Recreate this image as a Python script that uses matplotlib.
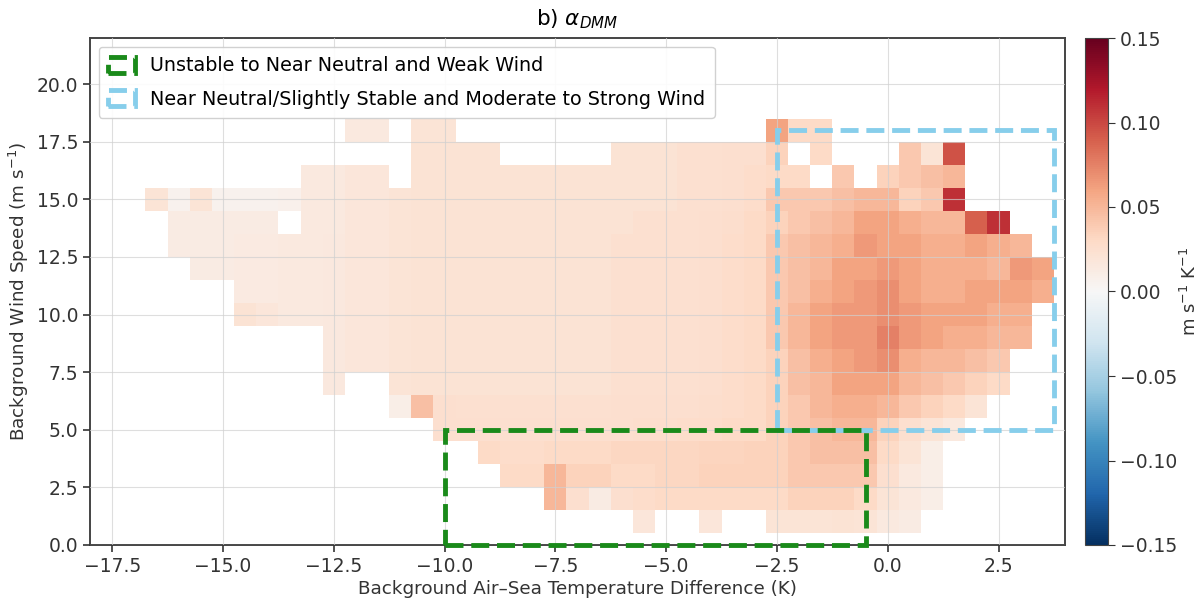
import numpy as np
import matplotlib
matplotlib.use("Agg")
import matplotlib.pyplot as plt
import matplotlib.patches as mpatches
from matplotlib.ticker import FuncFormatter

n = np.nan

# Bin centres
temp_diff_centers = np.arange(-17.5, 3.5 + 0.25, 0.5)   # K
wind_speed_centers = np.arange(1, 19)                    # m/s

# alpha_DMM per wind-speed row: (first temperature-difference centre, values)
r18_start, r18 = -12.0, [0.015, 0.015, n, 0.02, 0.02, n, n, n, n, n, n, n, n, n, n, n, n, n, n, 0.06, 0.03, 0.03]
r17_start, r17 = -10.5, [0.022, 0.022, 0.022, 0.022, n, n, n, n, n, 0.022, 0.022, 0.022, 0.024, 0.024, 0.025, 0.025,
                         0.035, n, 0.03, n, n, n, 0.04, 0.02, 0.095]
r16_start, r16 = -13.0, [0.015, 0.015, 0.018, 0.018, n, 0.022, 0.022, 0.022, 0.022, 0.022, 0.022, 0.022, 0.022,
                         0.022, 0.022, 0.022, 0.022, 0.024, 0.024, 0.025, 0.028, 0.03, 0.03, n, 0.04, n, 0.035,
                         0.04, 0.045, 0.05]
r15_start, r15 = -16.5, [0.02, 0.006, 0.02, 0.006, 0.006, 0.006, 0.008, 0.015, 0.015, 0.018, 0.018, 0.02, 0.022,
                         0.022, 0.022, 0.022, 0.022, 0.022, 0.022, 0.022, 0.022, 0.022, 0.022, 0.022, 0.024, 0.024,
                         0.025, 0.028, 0.04, 0.04, 0.04, 0.045, 0.05, 0.05, 0.035, 0.04, 0.11]
r14_start, r14 = -16.0, [0.012, 0.012, 0.012, 0.012, 0.012, n, 0.015, 0.015, 0.018, 0.018, 0.02, 0.022, 0.022,
                         0.022, 0.022, 0.022, 0.022, 0.022, 0.022, 0.022, 0.022, 0.024, 0.024, 0.024, 0.025, 0.026,
                         0.03, 0.035, 0.04, 0.045, 0.05, 0.06, 0.06, 0.055, 0.05, 0.05, 0.09, 0.11]
r13_start, r13 = -16.0, [0.012, 0.012, 0.012, 0.014, 0.014, 0.015, 0.015, 0.016, 0.018, 0.018, 0.02, 0.022, 0.022,
                         0.022, 0.022, 0.022, 0.022, 0.022, 0.022, 0.022, 0.024, 0.024, 0.024, 0.024, 0.025, 0.028,
                         0.03, 0.04, 0.045, 0.05, 0.055, 0.065, 0.06, 0.06, 0.055, 0.055, 0.06, 0.055, 0.05]
r12_start, r12 = -15.5, [0.012, 0.012, 0.014, 0.014, 0.015, 0.015, 0.016, 0.018, 0.018, 0.02, 0.022, 0.022, 0.022,
                         0.022, 0.022, 0.022, 0.022, 0.022, 0.022, 0.024, 0.024, 0.024, 0.024, 0.025, 0.028, 0.03,
                         0.04, 0.045, 0.05, 0.06, 0.06, 0.065, 0.06, 0.055, 0.055, 0.055, 0.05, 0.065, 0.06]
r11_start, r11 = -14.5, [0.014, 0.014, 0.015, 0.015, 0.016, 0.018, 0.018, 0.02, 0.022, 0.022, 0.022, 0.022, 0.022,
                         0.022, 0.022, 0.022, 0.022, 0.024, 0.024, 0.024, 0.024, 0.025, 0.028, 0.03,
                         0.04, 0.045, 0.055, 0.06, 0.065, 0.07, 0.06, 0.055, 0.055, 0.06, 0.06, 0.06, 0.055]
r10_start, r10 = -14.5, [0.022, 0.018, 0.015, 0.015, 0.016, 0.018, 0.018, 0.02, 0.022, 0.022, 0.022, 0.022, 0.022,
                         0.022, 0.022, 0.022, 0.022, 0.024, 0.024, 0.024, 0.024, 0.025, 0.028, 0.03,
                         0.04, 0.05, 0.06, 0.065, 0.065, 0.07, 0.065, 0.06, 0.06, 0.06, 0.055, 0.055]
r09_start, r09 = -12.5, [0.016, 0.018, 0.018, 0.02, 0.022, 0.022, 0.022, 0.022, 0.022, 0.022, 0.022, 0.022, 0.022,
                         0.024, 0.024, 0.024, 0.024, 0.025, 0.028, 0.03,
                         0.04, 0.05, 0.06, 0.065, 0.065, 0.075, 0.065, 0.06, 0.055, 0.055, 0.05, 0.05]
r08_start, r08 = -12.5, [0.016, 0.018, 0.018, 0.02, 0.022, 0.022, 0.022, 0.022, 0.022, 0.022, 0.022, 0.022, 0.022,
                         0.024, 0.024, 0.024, 0.024, 0.025, 0.028, 0.03,
                         0.035, 0.045, 0.055, 0.06, 0.065, 0.07, 0.055, 0.05, 0.05, 0.045, 0.04]
r07_start, r07 = -12.5, [0.016, n, n, 0.02, 0.022, 0.022, 0.022, 0.022, 0.022, 0.022, 0.022, 0.022, 0.022,
                         0.024, 0.024, 0.024, 0.024, 0.025, 0.028, 0.03,
                         0.035, 0.045, 0.05, 0.06, 0.06, 0.06, 0.05, 0.045, 0.04, 0.035, 0.03]
r06_start, r06 = -11.0, [0.01, 0.045, 0.025, 0.024, 0.024, 0.024, 0.024, 0.024, 0.024, 0.024,
                         0.025, 0.025, 0.025, 0.025, 0.026, 0.028, 0.03,
                         0.035, 0.04, 0.05, 0.055, 0.055, 0.05, 0.04, 0.035, 0.03, 0.02]
r05_start, r05 = -10.0, [0.025, 0.025, 0.025, 0.025, 0.025, 0.025, 0.025, 0.025, 0.025, 0.026, 0.026, 0.028,
                         0.028, 0.03, 0.03, 0.035, 0.04, 0.045, 0.05, 0.05, 0.035, 0.025, 0.02, 0.015]
r04_start, r04 = -9.0, [0.03, 0.028, 0.028, 0.03, 0.03, 0.03, 0.032, 0.032, 0.032, 0.032, 0.033, 0.033, 0.035,
                        0.035, 0.04, 0.045, 0.045, 0.045, 0.03, 0.02, 0.01]
r03_start, r03 = -8.5, [0.03, 0.03, 0.05, 0.035, 0.035, 0.03, 0.03, 0.032, 0.032, 0.035, 0.035, 0.035, 0.035,
                        0.04, 0.04, 0.04, 0.04, 0.025, 0.015, 0.01]
r02_start, r02 = -7.5, [0.05, 0.025, 0.012, 0.025, 0.028, 0.03, 0.03, 0.03, 0.03, 0.03, 0.03, 0.035, 0.035,
                        0.035, 0.03, 0.02, 0.015, 0.01]
r01_start, r01 = -5.5, [0.018, n, n, 0.018, n, n, 0.02, 0.02, 0.02, 0.022, 0.02, 0.015, 0.012]

row_starts = [r01_start, r02_start, r03_start, r04_start, r05_start, r06_start, r07_start, r08_start, r09_start,
              r10_start, r11_start, r12_start, r13_start, r14_start, r15_start, r16_start, r17_start, r18_start]
row_values = [r01, r02, r03, r04, r05, r06, r07, r08, r09, r10, r11, r12, r13, r14, r15, r16, r17, r18]

# Regions
weak_box = dict(x0=-10.0, x1=-0.5, y0=0.0, y1=5.0)
strong_box = dict(x0=-2.5, x1=3.75, y0=5.0, y1=18.0)

# ---------------------------------------------------------------
grid = np.full((len(wind_speed_centers), len(temp_diff_centers)), np.nan)
for r, (s, vals) in enumerate(zip(row_starts, row_values)):
    c0 = int(round((s - temp_diff_centers[0]) / 0.5))
    grid[r, c0:c0 + len(vals)] = vals
grid = np.ma.masked_invalid(grid)

x_edges = np.append(temp_diff_centers - 0.25, temp_diff_centers[-1] + 0.25)
y_edges = np.append(wind_speed_centers - 0.5, wind_speed_centers[-1] + 0.5)

fig = plt.figure(figsize=(11.99, 6.15), dpi=100)
ax = fig.add_axes([90 / 1199, 70 / 615, 975 / 1199, 507 / 615])
cax = fig.add_axes([1085 / 1199, 70 / 615, 23 / 1199, 507 / 615])

mesh = ax.pcolormesh(x_edges, y_edges, grid, cmap="RdBu_r", vmin=-0.15, vmax=0.15, zorder=1)

ax.set_xlim(-18, 4)
ax.set_ylim(0, 22)
ax.set_xticks(np.arange(-17.5, 2.6, 2.5))
ax.set_yticks(np.arange(0, 20.1, 2.5))
fmt = FuncFormatter(lambda v, p: f"{v:.1f}".replace("-", "\u2212"))
ax.xaxis.set_major_formatter(fmt)
ax.yaxis.set_major_formatter(fmt)
ax.set_axisbelow(False)
ax.grid(True, color="#d0d0d0", linewidth=0.8, alpha=0.7, zorder=2)
ax.tick_params(labelsize=13.5, colors="#333333", length=5, width=1.2)
for sp in ax.spines.values():
    sp.set_color("#444444")
    sp.set_linewidth(1.4)

ax.set_xlabel("Background Air\u2013Sea Temperature Difference (K)", fontsize=13.2, color="#333333", labelpad=3)
ax.set_ylabel("Background Wind Speed (m s$^{-1}$)", fontsize=13.2, color="#333333", labelpad=4)
ax.set_title(r"b) $\alpha_{DMM}$", fontsize=15.5, pad=9)

blue = "#87CEEB"
green = "#1a8a1a"
rb = mpatches.Rectangle((strong_box["x0"], strong_box["y0"]), strong_box["x1"] - strong_box["x0"],
                        strong_box["y1"] - strong_box["y0"], fill=False, edgecolor=blue, linestyle="--",
                        linewidth=3.5, zorder=3, clip_on=False)
rg = mpatches.Rectangle((weak_box["x0"], weak_box["y0"]), weak_box["x1"] - weak_box["x0"],
                        weak_box["y1"] - weak_box["y0"], fill=False, edgecolor=green, linestyle="--",
                        linewidth=3.5, zorder=4, clip_on=False)
ax.add_patch(rb)
ax.add_patch(rg)

hg = mpatches.Rectangle((0, 0), 1, 1, fill=False, edgecolor=green, linestyle="--", linewidth=3.5)
hb = mpatches.Rectangle((0, 0), 1, 1, fill=False, edgecolor=blue, linestyle="--", linewidth=3.5)
leg = ax.legend([hg, hb], ["Unstable to Near Neutral and Weak Wind",
                           "Near Neutral/Slightly Stable and Moderate to Strong Wind"],
                loc="upper left", fontsize=13.8, handlelength=1.4, handleheight=0.9, framealpha=0.9,
                borderaxespad=0.45, labelspacing=0.75, borderpad=0.5)
leg.set_zorder(5)

cb = fig.colorbar(mesh, cax=cax)
cb.set_ticks(np.arange(-0.15, 0.151, 0.05))
cb.ax.yaxis.set_major_formatter(FuncFormatter(lambda v, p: f"{v:.2f}".replace("-", "\u2212")))
cb.ax.tick_params(labelsize=13.5, colors="#333333", length=5)
cb.outline.set_edgecolor("#444444")
cb.set_label("m s$^{-1}$ K$^{-1}$", fontsize=13, color="#333333", labelpad=2)

fig.savefig("out.png", dpi=100)
